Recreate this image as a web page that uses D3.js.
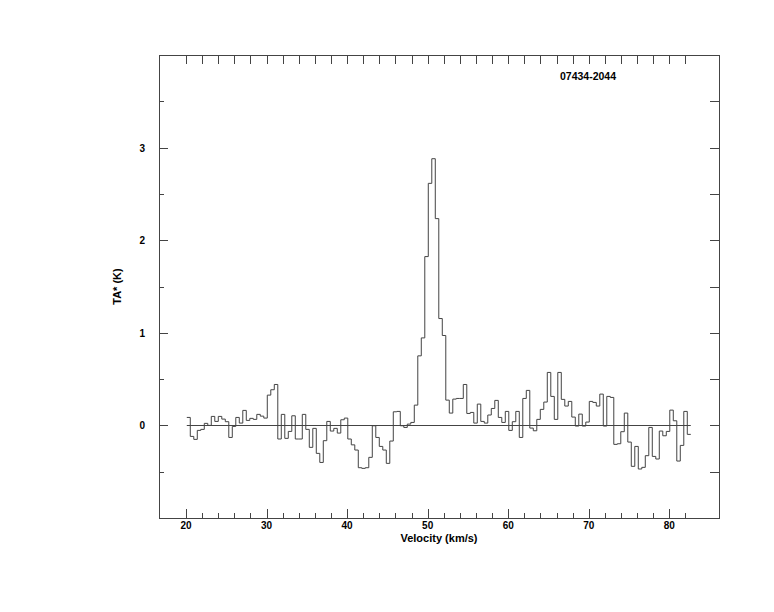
<!DOCTYPE html>
<html><head><meta charset="utf-8">
<script src="https://cdn.jsdelivr.net/npm/d3@7"></script>
<style>body{margin:0;background:#fff}</style>
</head><body>
<svg id="chart" width="774" height="612"></svg>
<script>
const title = "07434-2044";
const xLabel = "Velocity (km/s)";
const yLabel = "TA* (K)";
const vStart = 20.10;      // first channel edge (km/s)
const chanWidth = 0.4345;  // channel width (km/s)
const ta = [
  0.086,-0.119,-0.151,-0.054,-0.043,0.022,0.000,0.097,0.043,0.097,
  0.068,0.040,-0.130,-0.011,0.086,0.025,0.162,0.054,0.076,0.065,
  0.119,0.100,0.079,0.327,0.385,0.442,-0.147,0.119,-0.140,-0.065,
  0.104,-0.147,-0.147,0.119,-0.043,-0.237,-0.032,-0.302,-0.400,-0.165,
  0.043,-0.061,-0.032,-0.083,0.061,0.079,-0.147,-0.210,-0.266,-0.457,
  -0.464,-0.457,-0.345,-0.004,-0.130,-0.227,-0.266,-0.410,-0.169,0.147,
  0.151,-0.004,-0.022,0.014,0.032,0.219,0.751,0.945,1.823,2.614,
  2.880,2.233,1.154,0.971,0.273,0.133,0.284,0.291,0.291,0.442,
  0.129,0.140,0.025,0.230,0.043,0.025,0.112,0.183,0.270,0.086,
  0.032,0.151,-0.054,0.040,0.151,-0.130,0.291,0.378,-0.029,-0.058,
  0.065,0.173,0.252,0.572,0.313,0.065,0.572,0.281,0.209,0.259,
  0.090,-0.007,0.122,-0.007,0.036,0.259,0.248,0.209,0.338,-0.007,
  0.313,0.302,-0.205,-0.198,-0.068,0.133,-0.180,-0.442,-0.227,-0.471,
  -0.453,-0.327,-0.022,-0.335,-0.363,-0.061,-0.112,-0.065,0.165,0.050,
  -0.385,-0.216,0.151,-0.097
];
const xMajorTicks = [20,30,40,50,60,70,80];
const xMinorTicks = [22,24,26,28,32,34,36,38,42,44,46,48,52,54,56,58,62,64,66,68,72,74,76,78,82];
const yMajorTicks = [0,1,2,3];
const yMinorTicks = [-0.5,0.5,1.5,2.5,3.5];
const xDomain = [16.65, 86.17];
const yDomain = [-1, 4];

const W = 774, H = 612;
const m = {left:159, right:55, top:55, bottom:94};
const svg = d3.select("#chart");
const x = d3.scaleLinear().domain(xDomain).range([m.left, W - m.right]);
const y = d3.scaleLinear().domain(yDomain).range([H - m.bottom, m.top]);
const ink = "#444";
const font = "'Liberation Sans', Arial, Helvetica, sans-serif";

// frame
svg.append("rect").attr("x", m.left + 0.5).attr("y", m.top + 0.5)
  .attr("width", W - m.left - m.right).attr("height", H - m.top - m.bottom)
  .attr("fill", "none").attr("stroke", ink).attr("stroke-width", 1);

function ticks(vals, len, side) {
  const g = svg.append("g").attr("stroke", ink).attr("stroke-width", 1).attr("shape-rendering", "crispEdges");
  vals.forEach(v => {
    if (side === "bottom") g.append("line").attr("x1", Math.round(x(v))+0.5).attr("x2", Math.round(x(v))+0.5).attr("y1", y(yDomain[0])).attr("y2", y(yDomain[0]) - len);
    if (side === "top") g.append("line").attr("x1", Math.round(x(v))+0.5).attr("x2", Math.round(x(v))+0.5).attr("y1", y(yDomain[1])).attr("y2", y(yDomain[1]) + len);
    if (side === "left") g.append("line").attr("y1", Math.round(y(v))+0.5).attr("y2", Math.round(y(v))+0.5).attr("x1", x(xDomain[0])).attr("x2", x(xDomain[0]) + len);
    if (side === "right") g.append("line").attr("y1", Math.round(y(v))+0.5).attr("y2", Math.round(y(v))+0.5).attr("x1", x(xDomain[1])).attr("x2", x(xDomain[1]) - len);
  });
}
ticks(xMajorTicks, 9, "bottom");
ticks(xMinorTicks, 5, "bottom");
ticks(xMajorTicks, 9, "top");
ticks(xMinorTicks, 9, "top");
ticks(yMajorTicks, 9, "left");
ticks(yMinorTicks, 5, "left");
ticks(yMajorTicks, 9, "right");
ticks(yMinorTicks, 9, "right");

// tick labels
svg.append("g").selectAll("text").data(xMajorTicks).join("text")
  .attr("x", d => x(d)).attr("y", y(yDomain[0]) + 11)
  .attr("text-anchor", "middle").attr("font-family", font).attr("font-weight", "bold")
  .attr("font-size", 10).attr("fill", "#000").text(d => d);
svg.append("g").selectAll("text").data(yMajorTicks).join("text")
  .attr("x", x(xDomain[0]) - 14).attr("y", d => y(d) + 4)
  .attr("text-anchor", "end").attr("font-family", font).attr("font-weight", "bold")
  .attr("font-size", 10).attr("fill", "#000").text(d => d);

// axis titles
svg.append("text").attr("x", (m.left + W - m.right)/2).attr("y", H - m.bottom + 24)
  .attr("text-anchor", "middle").attr("font-family", font).attr("font-weight", "bold")
  .attr("font-size", 11).text(xLabel);
svg.append("text").attr("transform", `translate(121,${(m.top + H - m.bottom)/2}) rotate(-90)`)
  .attr("text-anchor", "middle").attr("font-family", font).attr("font-weight", "bold")
  .attr("font-size", 11).text(yLabel);
svg.append("text").attr("x", 588).attr("y", 80)
  .attr("text-anchor", "middle").attr("font-family", font).attr("font-weight", "bold")
  .attr("font-size", 10.5).text(title);

// zero baseline
const vEnd = vStart + chanWidth * ta.length;
svg.append("line").attr("x1", x(vStart)).attr("x2", x(vEnd))
  .attr("y1", Math.round(y(0)) + 0.5).attr("y2", Math.round(y(0)) + 0.5)
  .attr("stroke", ink).attr("stroke-width", 1);

// spectrum histogram
const pts = ta.map((t, i) => [vStart + i * chanWidth, t]);
pts.push([vEnd, ta[ta.length - 1]]);
const line = d3.line().x(d => x(d[0])).y(d => y(d[1])).curve(d3.curveStepAfter);
svg.append("path").datum(pts).attr("d", line)
  .attr("fill", "none").attr("stroke", ink).attr("stroke-width", 1);
</script>
</body></html>
